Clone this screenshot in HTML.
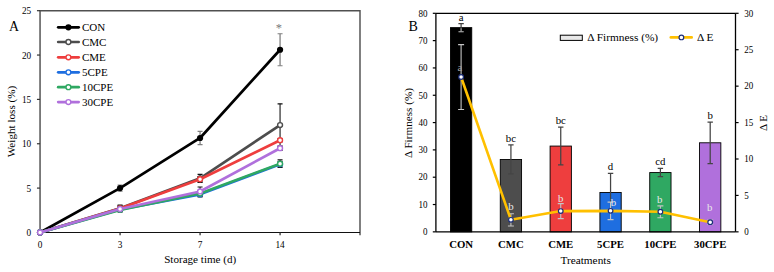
<!DOCTYPE html><html><head><meta charset="utf-8"><title>Figure</title><style>html,body{margin:0;padding:0;background:#fff}svg{display:block}text{font-family:"Liberation Serif","Times New Roman",serif;fill:#000}</style></head><body>
<svg width="774" height="272" viewBox="0 0 774 272">
<rect width="774" height="272" fill="#fff"/>
<g id="chartA">
<path d="M120.07 185.00V191.20" stroke="#808080" stroke-width="1.3" fill="none"/>
<path d="M117.57 185.00H122.57M117.57 191.20H122.57" stroke="#808080" stroke-width="1.1" fill="none"/>
<path d="M200.07 131.33V144.64" stroke="#808080" stroke-width="1.3" fill="none"/>
<path d="M197.57 131.33H202.57M197.57 144.64H202.57" stroke="#808080" stroke-width="1.1" fill="none"/>
<path d="M280.07 33.76V65.69" stroke="#808080" stroke-width="1.3" fill="none"/>
<path d="M277.57 33.76H282.57M277.57 65.69H282.57" stroke="#808080" stroke-width="1.1" fill="none"/>
<path d="M120.07 205.13V211.52" stroke="#3a3a3a" stroke-width="1.3" fill="none"/>
<path d="M117.57 205.13H122.57M117.57 211.52H122.57" stroke="#111" stroke-width="1.1" fill="none"/>
<path d="M200.07 174.35V182.33" stroke="#3a3a3a" stroke-width="1.3" fill="none"/>
<path d="M197.57 174.35H202.57M197.57 182.33H202.57" stroke="#111" stroke-width="1.1" fill="none"/>
<path d="M280.07 103.83V146.41" stroke="#3a3a3a" stroke-width="1.3" fill="none"/>
<path d="M277.57 103.83H282.57M277.57 146.41H282.57" stroke="#111" stroke-width="1.1" fill="none"/>
<path d="M120.07 205.84V211.16" stroke="#3a3a3a" stroke-width="1.3" fill="none"/>
<path d="M117.57 205.84H122.57M117.57 211.16H122.57" stroke="#111" stroke-width="1.1" fill="none"/>
<path d="M200.07 176.57V181.89" stroke="#3a3a3a" stroke-width="1.3" fill="none"/>
<path d="M197.57 176.57H202.57M197.57 181.89H202.57" stroke="#111" stroke-width="1.1" fill="none"/>
<path d="M280.07 138.43V141.98" stroke="#3a3a3a" stroke-width="1.3" fill="none"/>
<path d="M277.57 138.43H282.57M277.57 141.98H282.57" stroke="#111" stroke-width="1.1" fill="none"/>
<path d="M120.07 207.61V211.16" stroke="#3a3a3a" stroke-width="1.3" fill="none"/>
<path d="M117.57 207.61H122.57M117.57 211.16H122.57" stroke="#111" stroke-width="1.1" fill="none"/>
<path d="M200.07 191.65V196.97" stroke="#3a3a3a" stroke-width="1.3" fill="none"/>
<path d="M197.57 191.65H202.57M197.57 196.97H202.57" stroke="#111" stroke-width="1.1" fill="none"/>
<path d="M280.07 161.49V166.81" stroke="#3a3a3a" stroke-width="1.3" fill="none"/>
<path d="M277.57 161.49H282.57M277.57 166.81H282.57" stroke="#111" stroke-width="1.1" fill="none"/>
<path d="M120.07 208.06V211.61" stroke="#3a3a3a" stroke-width="1.3" fill="none"/>
<path d="M117.57 208.06H122.57M117.57 211.61H122.57" stroke="#111" stroke-width="1.1" fill="none"/>
<path d="M200.07 190.76V196.08" stroke="#3a3a3a" stroke-width="1.3" fill="none"/>
<path d="M197.57 190.76H202.57M197.57 196.08H202.57" stroke="#111" stroke-width="1.1" fill="none"/>
<path d="M280.07 159.89V167.52" stroke="#3a3a3a" stroke-width="1.3" fill="none"/>
<path d="M277.57 159.89H282.57M277.57 167.52H282.57" stroke="#111" stroke-width="1.1" fill="none"/>
<path d="M120.07 206.19V211.87" stroke="#3a3a3a" stroke-width="1.3" fill="none"/>
<path d="M117.57 206.19H122.57M117.57 211.87H122.57" stroke="#111" stroke-width="1.1" fill="none"/>
<path d="M200.07 187.04V195.91" stroke="#3a3a3a" stroke-width="1.3" fill="none"/>
<path d="M197.57 187.04H202.57M197.57 195.91H202.57" stroke="#111" stroke-width="1.1" fill="none"/>
<path d="M280.07 145.97V150.40" stroke="#3a3a3a" stroke-width="1.3" fill="none"/>
<path d="M277.57 145.97H282.57M277.57 150.40H282.57" stroke="#111" stroke-width="1.1" fill="none"/>
<path d="M40.05 235.25V10.7H360.0V235.25" fill="none" stroke="#505050" stroke-width="1.45"/>
<path d="M40.05 232.45H360.0" fill="none" stroke="#111" stroke-width="1.15"/>
<line x1="36.95" y1="232.45" x2="40.05" y2="232.45" stroke="#333" stroke-width="1.2"/>
<text transform="translate(31.20,235.90) scale(0.91,1)" font-size="10.2" text-anchor="end">0</text>
<line x1="36.95" y1="188.10" x2="40.05" y2="188.10" stroke="#333" stroke-width="1.2"/>
<text transform="translate(31.20,191.55) scale(0.91,1)" font-size="10.2" text-anchor="end">5</text>
<line x1="36.95" y1="143.75" x2="40.05" y2="143.75" stroke="#333" stroke-width="1.2"/>
<text transform="translate(31.20,147.20) scale(0.91,1)" font-size="10.2" text-anchor="end">10</text>
<line x1="36.95" y1="99.40" x2="40.05" y2="99.40" stroke="#333" stroke-width="1.2"/>
<text transform="translate(31.20,102.85) scale(0.91,1)" font-size="10.2" text-anchor="end">15</text>
<line x1="36.95" y1="55.05" x2="40.05" y2="55.05" stroke="#333" stroke-width="1.2"/>
<text transform="translate(31.20,58.50) scale(0.91,1)" font-size="10.2" text-anchor="end">20</text>
<line x1="36.95" y1="10.70" x2="40.05" y2="10.70" stroke="#333" stroke-width="1.2"/>
<text transform="translate(31.20,14.15) scale(0.91,1)" font-size="10.2" text-anchor="end">25</text>
<text transform="translate(40.07,248.00) scale(0.91,1)" font-size="10.2" text-anchor="middle">0</text>
<line x1="120.07" y1="232.45" x2="120.07" y2="235.35" stroke="#333" stroke-width="1.3"/>
<text transform="translate(120.07,248.00) scale(0.91,1)" font-size="10.2" text-anchor="middle">3</text>
<line x1="200.07" y1="232.45" x2="200.07" y2="235.35" stroke="#333" stroke-width="1.3"/>
<text transform="translate(200.07,248.00) scale(0.91,1)" font-size="10.2" text-anchor="middle">7</text>
<line x1="280.07" y1="232.45" x2="280.07" y2="235.35" stroke="#333" stroke-width="1.3"/>
<text transform="translate(280.07,248.00) scale(0.91,1)" font-size="10.2" text-anchor="middle">14</text>
<text transform="translate(200.20,263.20)" font-size="11.1" text-anchor="middle">Storage time (d)</text>
<text transform="translate(15.30,121.50) rotate(-90)" font-size="11.15" text-anchor="middle">Weight loss (%)</text>
<text transform="translate(9.00,30.90) scale(0.9,1)" font-size="15.4">A</text>
<polyline points="40.07,232.45 120.07,188.10 200.07,137.98 280.07,49.73" fill="none" stroke="#000000" stroke-width="2.7" stroke-linejoin="round" stroke-linecap="round"/>
<circle cx="40.07" cy="232.45" r="3.1" fill="#000000"/>
<circle cx="120.07" cy="188.10" r="3.1" fill="#000000"/>
<circle cx="200.07" cy="137.98" r="3.1" fill="#000000"/>
<circle cx="280.07" cy="49.73" r="3.1" fill="#000000"/>
<polyline points="40.07,232.45 120.07,208.32 200.07,178.34 280.07,125.12" fill="none" stroke="#4d4d4d" stroke-width="2.7" stroke-linejoin="round" stroke-linecap="round"/>
<circle cx="40.07" cy="232.45" r="2.45" fill="#fff" stroke="#4d4d4d" stroke-width="1.4"/>
<circle cx="120.07" cy="208.32" r="2.45" fill="#fff" stroke="#4d4d4d" stroke-width="1.4"/>
<circle cx="200.07" cy="178.34" r="2.45" fill="#fff" stroke="#4d4d4d" stroke-width="1.4"/>
<circle cx="280.07" cy="125.12" r="2.45" fill="#fff" stroke="#4d4d4d" stroke-width="1.4"/>
<polyline points="40.07,232.45 120.07,208.50 200.07,179.23 280.07,140.20" fill="none" stroke="#ee3e3e" stroke-width="2.7" stroke-linejoin="round" stroke-linecap="round"/>
<circle cx="40.07" cy="232.45" r="2.45" fill="#fff" stroke="#ee3e3e" stroke-width="1.4"/>
<circle cx="120.07" cy="208.50" r="2.45" fill="#fff" stroke="#ee3e3e" stroke-width="1.4"/>
<circle cx="200.07" cy="179.23" r="2.45" fill="#fff" stroke="#ee3e3e" stroke-width="1.4"/>
<circle cx="280.07" cy="140.20" r="2.45" fill="#fff" stroke="#ee3e3e" stroke-width="1.4"/>
<polyline points="40.07,232.45 120.07,209.39 200.07,194.31 280.07,164.15" fill="none" stroke="#1e6ee0" stroke-width="2.7" stroke-linejoin="round" stroke-linecap="round"/>
<circle cx="40.07" cy="232.45" r="2.45" fill="#fff" stroke="#1e6ee0" stroke-width="1.4"/>
<circle cx="120.07" cy="209.39" r="2.45" fill="#fff" stroke="#1e6ee0" stroke-width="1.4"/>
<circle cx="200.07" cy="194.31" r="2.45" fill="#fff" stroke="#1e6ee0" stroke-width="1.4"/>
<circle cx="280.07" cy="164.15" r="2.45" fill="#fff" stroke="#1e6ee0" stroke-width="1.4"/>
<polyline points="40.07,232.45 120.07,209.83 200.07,193.42 280.07,163.71" fill="none" stroke="#2fa862" stroke-width="2.7" stroke-linejoin="round" stroke-linecap="round"/>
<circle cx="40.07" cy="232.45" r="2.45" fill="#fff" stroke="#2fa862" stroke-width="1.4"/>
<circle cx="120.07" cy="209.83" r="2.45" fill="#fff" stroke="#2fa862" stroke-width="1.4"/>
<circle cx="200.07" cy="193.42" r="2.45" fill="#fff" stroke="#2fa862" stroke-width="1.4"/>
<circle cx="280.07" cy="163.71" r="2.45" fill="#fff" stroke="#2fa862" stroke-width="1.4"/>
<polyline points="40.07,232.45 120.07,209.03 200.07,191.47 280.07,148.19" fill="none" stroke="#b070dc" stroke-width="2.7" stroke-linejoin="round" stroke-linecap="round"/>
<circle cx="40.07" cy="232.45" r="2.45" fill="#fff" stroke="#b070dc" stroke-width="1.4"/>
<circle cx="120.07" cy="209.03" r="2.45" fill="#fff" stroke="#b070dc" stroke-width="1.4"/>
<circle cx="200.07" cy="191.47" r="2.45" fill="#fff" stroke="#b070dc" stroke-width="1.4"/>
<circle cx="280.07" cy="148.19" r="2.45" fill="#fff" stroke="#b070dc" stroke-width="1.4"/>
<text transform="translate(278.90,31.90)" font-size="12.5" text-anchor="middle" fill="#7a7a7a" style="fill:#7a7a7a">*</text>
<line x1="58.2" y1="27.3" x2="78.7" y2="27.3" stroke="#000000" stroke-width="2.7" stroke-linecap="round"/>
<circle cx="68.4" cy="27.3" r="3.1" fill="#000000"/>
<text transform="translate(82.00,30.95)" font-size="11.0">CON</text>
<line x1="58.2" y1="42" x2="78.7" y2="42" stroke="#4d4d4d" stroke-width="2.7" stroke-linecap="round"/>
<circle cx="68.4" cy="42" r="2.45" fill="#fff" stroke="#4d4d4d" stroke-width="1.4"/>
<text transform="translate(82.00,45.65)" font-size="11.0">CMC</text>
<line x1="58.2" y1="57.3" x2="78.7" y2="57.3" stroke="#ee3e3e" stroke-width="2.7" stroke-linecap="round"/>
<circle cx="68.4" cy="57.3" r="2.45" fill="#fff" stroke="#ee3e3e" stroke-width="1.4"/>
<text transform="translate(82.00,60.95)" font-size="11.0">CME</text>
<line x1="58.2" y1="72.3" x2="78.7" y2="72.3" stroke="#1e6ee0" stroke-width="2.7" stroke-linecap="round"/>
<circle cx="68.4" cy="72.3" r="2.45" fill="#fff" stroke="#1e6ee0" stroke-width="1.4"/>
<text transform="translate(82.00,75.95)" font-size="11.0">5CPE</text>
<line x1="58.2" y1="87.2" x2="78.7" y2="87.2" stroke="#2fa862" stroke-width="2.7" stroke-linecap="round"/>
<circle cx="68.4" cy="87.2" r="2.45" fill="#fff" stroke="#2fa862" stroke-width="1.4"/>
<text transform="translate(82.00,90.85)" font-size="11.0">10CPE</text>
<line x1="58.2" y1="102.1" x2="78.7" y2="102.1" stroke="#b070dc" stroke-width="2.7" stroke-linecap="round"/>
<circle cx="68.4" cy="102.1" r="2.45" fill="#fff" stroke="#b070dc" stroke-width="1.4"/>
<text transform="translate(82.00,105.75)" font-size="11.0">30CPE</text>
</g>
<g id="chartB">
<rect x="450.45" y="27.64" width="21.3" height="204.21" fill="#000000" stroke="#000" stroke-width="0.9"/>
<path d="M461.10 23.54V31.74M458.40 23.54H463.80M458.40 31.74H463.80" stroke="#444" stroke-width="1.25" fill="none"/>
<path d="M461.10 28.24V31.74M458.60 31.74H463.60" stroke="#a6a6a6" stroke-width="1" fill="none"/>
<text transform="translate(461.10,20.84)" font-size="10.8" text-anchor="middle">a</text>
<rect x="500.27" y="159.46" width="21.3" height="72.39" fill="#4d4d4d" stroke="#000" stroke-width="0.9"/>
<path d="M510.92 144.98V173.93M508.22 144.98H513.62M508.22 173.93H513.62" stroke="#444" stroke-width="1.25" fill="none"/>
<text transform="translate(510.92,141.78)" font-size="10.8" text-anchor="middle">bc</text>
<rect x="550.09" y="146.07" width="21.3" height="85.78" fill="#ee3e3e" stroke="#000" stroke-width="0.9"/>
<path d="M560.74 127.22V164.92M558.04 127.22H563.44M558.04 164.92H563.44" stroke="#444" stroke-width="1.25" fill="none"/>
<text transform="translate(560.74,124.02)" font-size="10.8" text-anchor="middle">bc</text>
<rect x="599.91" y="192.51" width="21.3" height="39.34" fill="#1e6ee0" stroke="#000" stroke-width="0.9"/>
<path d="M610.56 173.39V211.63M607.86 173.39H613.26M607.86 211.63H613.26" stroke="#444" stroke-width="1.25" fill="none"/>
<text transform="translate(610.56,170.19)" font-size="10.8" text-anchor="middle">d</text>
<rect x="649.73" y="172.57" width="21.3" height="59.28" fill="#2fa862" stroke="#000" stroke-width="0.9"/>
<path d="M660.38 168.47V176.67M657.68 168.47H663.08M657.68 176.67H663.08" stroke="#444" stroke-width="1.25" fill="none"/>
<text transform="translate(660.38,165.27)" font-size="10.8" text-anchor="middle">cd</text>
<rect x="699.55" y="142.79" width="21.3" height="89.06" fill="#b070dc" stroke="#000" stroke-width="0.9"/>
<path d="M710.20 122.03V163.55M707.50 122.03H712.90M707.50 163.55H712.90" stroke="#444" stroke-width="1.25" fill="none"/>
<text transform="translate(710.20,118.83)" font-size="10.8" text-anchor="middle">b</text>
<path d="M435.9 13.3H735.5M435.9 13.3V231.85M735.5 13.3V231.85M435.9 231.85H735.5" stroke="#000" stroke-width="1.3" fill="none"/>
<line x1="432.80" y1="231.85" x2="435.9" y2="231.85" stroke="#000" stroke-width="1.2"/>
<text transform="translate(427.40,235.10) scale(0.94,1)" font-size="9.6" text-anchor="end">0</text>
<line x1="432.80" y1="204.53" x2="435.9" y2="204.53" stroke="#000" stroke-width="1.2"/>
<text transform="translate(427.40,207.78) scale(0.94,1)" font-size="9.6" text-anchor="end">10</text>
<line x1="432.80" y1="177.21" x2="435.9" y2="177.21" stroke="#000" stroke-width="1.2"/>
<text transform="translate(427.40,180.46) scale(0.94,1)" font-size="9.6" text-anchor="end">20</text>
<line x1="432.80" y1="149.89" x2="435.9" y2="149.89" stroke="#000" stroke-width="1.2"/>
<text transform="translate(427.40,153.14) scale(0.94,1)" font-size="9.6" text-anchor="end">30</text>
<line x1="432.80" y1="122.57" x2="435.9" y2="122.57" stroke="#000" stroke-width="1.2"/>
<text transform="translate(427.40,125.82) scale(0.94,1)" font-size="9.6" text-anchor="end">40</text>
<line x1="432.80" y1="95.26" x2="435.9" y2="95.26" stroke="#000" stroke-width="1.2"/>
<text transform="translate(427.40,98.51) scale(0.94,1)" font-size="9.6" text-anchor="end">50</text>
<line x1="432.80" y1="67.94" x2="435.9" y2="67.94" stroke="#000" stroke-width="1.2"/>
<text transform="translate(427.40,71.19) scale(0.94,1)" font-size="9.6" text-anchor="end">60</text>
<line x1="432.80" y1="40.62" x2="435.9" y2="40.62" stroke="#000" stroke-width="1.2"/>
<text transform="translate(427.40,43.87) scale(0.94,1)" font-size="9.6" text-anchor="end">70</text>
<line x1="432.80" y1="13.30" x2="435.9" y2="13.30" stroke="#000" stroke-width="1.2"/>
<text transform="translate(427.40,16.55) scale(0.94,1)" font-size="9.6" text-anchor="end">80</text>
<line x1="735.5" y1="231.85" x2="738.60" y2="231.85" stroke="#000" stroke-width="1.2"/>
<text transform="translate(744.20,235.10) scale(0.94,1)" font-size="9.6">0</text>
<line x1="735.5" y1="195.43" x2="738.60" y2="195.43" stroke="#000" stroke-width="1.2"/>
<text transform="translate(744.20,198.68) scale(0.94,1)" font-size="9.6">5</text>
<line x1="735.5" y1="159.00" x2="738.60" y2="159.00" stroke="#000" stroke-width="1.2"/>
<text transform="translate(744.20,162.25) scale(0.94,1)" font-size="9.6">10</text>
<line x1="735.5" y1="122.58" x2="738.60" y2="122.58" stroke="#000" stroke-width="1.2"/>
<text transform="translate(744.20,125.83) scale(0.94,1)" font-size="9.6">15</text>
<line x1="735.5" y1="86.15" x2="738.60" y2="86.15" stroke="#000" stroke-width="1.2"/>
<text transform="translate(744.20,89.40) scale(0.94,1)" font-size="9.6">20</text>
<line x1="735.5" y1="49.72" x2="738.60" y2="49.72" stroke="#000" stroke-width="1.2"/>
<text transform="translate(744.20,52.97) scale(0.94,1)" font-size="9.6">25</text>
<line x1="735.5" y1="13.30" x2="738.60" y2="13.30" stroke="#000" stroke-width="1.2"/>
<text transform="translate(744.20,16.55) scale(0.94,1)" font-size="9.6">30</text>
<path d="M461.10 44.63V109.46M458.10 44.63H464.10M458.10 109.46H464.10" stroke="#c4c4c4" stroke-width="1.1" fill="none"/>
<path d="M510.92 213.71V225.95M507.92 213.71H513.92M507.92 225.95H513.92" stroke="#c4c4c4" stroke-width="1.1" fill="none"/>
<path d="M560.74 203.58V218.59M557.74 203.58H563.74M557.74 218.59H563.74" stroke="#c4c4c4" stroke-width="1.1" fill="none"/>
<path d="M610.56 202.13V219.61M607.56 202.13H613.56M607.56 219.61H613.56" stroke="#c4c4c4" stroke-width="1.1" fill="none"/>
<path d="M660.38 205.84V217.79M657.38 205.84H663.38M657.38 217.79H663.38" stroke="#c4c4c4" stroke-width="1.1" fill="none"/>
<path d="M710.20 219.98V224.35M707.20 219.98H713.20M707.20 224.35H713.20" stroke="#c4c4c4" stroke-width="1.1" fill="none"/>
<polyline points="461.10,77.04 510.92,219.83 560.74,211.09 610.56,210.87 660.38,211.82 710.20,222.16" fill="none" stroke="#ffc000" stroke-width="2.6" stroke-linejoin="round" stroke-linecap="round"/>
<circle cx="461.10" cy="77.04" r="2.35" fill="#fff" stroke="#1c2e7a" stroke-width="1.2"/>
<circle cx="510.92" cy="219.83" r="2.35" fill="#fff" stroke="#1c2e7a" stroke-width="1.2"/>
<circle cx="560.74" cy="211.09" r="2.35" fill="#fff" stroke="#1c2e7a" stroke-width="1.2"/>
<circle cx="610.56" cy="210.87" r="2.35" fill="#fff" stroke="#1c2e7a" stroke-width="1.2"/>
<circle cx="660.38" cy="211.82" r="2.35" fill="#fff" stroke="#1c2e7a" stroke-width="1.2"/>
<circle cx="710.20" cy="222.16" r="2.35" fill="#fff" stroke="#1c2e7a" stroke-width="1.2"/>
<text transform="translate(460.00,70.90)" font-size="10.8" text-anchor="middle" fill="#a0a0a0" style="fill:#a0a0a0">a</text>
<text transform="translate(510.92,209.70)" font-size="10.8" text-anchor="middle" fill="#e8e8e8" style="fill:#e8e8e8">b</text>
<text transform="translate(560.74,202.30)" font-size="10.8" text-anchor="middle" fill="#e8e8e8" style="fill:#e8e8e8">b</text>
<text transform="translate(613.46,206.30)" font-size="10.8" text-anchor="middle" fill="#e8e8e8" style="fill:#e8e8e8">b</text>
<text transform="translate(659.78,203.30)" font-size="10.8" text-anchor="middle" fill="#e8e8e8" style="fill:#e8e8e8">b</text>
<text transform="translate(709.70,210.50)" font-size="10.8" text-anchor="middle" fill="#e8e8e8" style="fill:#e8e8e8">b</text>
<text transform="translate(461.10,247.50)" font-size="10.75" text-anchor="middle" font-weight="bold">CON</text>
<text transform="translate(510.92,247.50)" font-size="10.75" text-anchor="middle" font-weight="bold">CMC</text>
<text transform="translate(560.74,247.50)" font-size="10.75" text-anchor="middle" font-weight="bold">CME</text>
<text transform="translate(610.56,247.50)" font-size="10.75" text-anchor="middle" font-weight="bold">5CPE</text>
<text transform="translate(660.38,247.50)" font-size="10.75" text-anchor="middle" font-weight="bold">10CPE</text>
<text transform="translate(710.20,247.50)" font-size="10.75" text-anchor="middle" font-weight="bold">30CPE</text>
<text transform="translate(585.60,263.50)" font-size="11.3" text-anchor="middle">Treatments</text>
<text transform="translate(412.00,123.00) rotate(-90)" font-size="11.2" text-anchor="middle">Δ Firmness (%)</text>
<text transform="translate(767.00,123.10) rotate(-90)" font-size="11.0" text-anchor="middle">Δ E</text>
<text transform="translate(408.60,30.50) scale(0.9,1)" font-size="15.6">B</text>
<rect x="560.3" y="35.2" width="22" height="5.2" fill="#e8e8e8" stroke="#000" stroke-width="1"/>
<text transform="translate(587.20,41.40)" font-size="11.35">Δ Firmness (%)</text>
<line x1="670.8" y1="37.4" x2="691.7" y2="37.4" stroke="#ffc000" stroke-width="2.6" stroke-linecap="round"/>
<circle cx="681.4" cy="37.4" r="2.35" fill="#fff" stroke="#1c2e7a" stroke-width="1.2"/>
<text transform="translate(697.00,41.40)" font-size="11.35">Δ E</text>
</g>
</svg></body></html>
